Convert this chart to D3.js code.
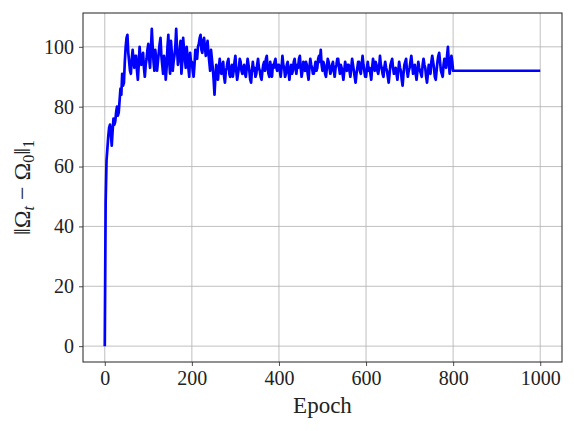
<!DOCTYPE html>
<html>
<head>
<meta charset="utf-8">
<script src="https://cdn.jsdelivr.net/npm/d3@7"></script>
<style>
  body { margin: 0; background: #fff; }
  svg text { font-family: "Liberation Serif", "DejaVu Serif", serif; fill: #222; }
</style>
</head>
<body>
<div id="chart"></div>
<script>
// ||Omega_t - Omega_0||_1 every 2 epochs, epoch 0 .. 800
const epochStep = 2;
const normValues = [
  0, 48, 62, 66, 70, 73, 74, 71, 67, 72, 76, 74, 75, 78, 80, 77, 78, 82, 86, 84,
  91, 87, 88, 95, 100, 103, 104, 98, 95, 92, 91, 96, 99, 95, 93, 97, 97, 92, 89, 94,
  100, 96, 94, 97, 98, 93, 90, 94, 96, 99, 101, 96, 93, 99, 106, 100, 95, 92, 99, 96,
  92, 95, 98, 101, 103, 97, 94, 91, 97, 95, 89, 93, 100, 104, 95, 91, 102, 98, 92, 95,
  97, 100, 106, 99, 94, 96, 99, 102, 91, 95, 103, 99, 96, 93, 100, 97, 93, 90, 98, 95,
  95, 92, 90, 94, 99, 97, 96, 100, 101, 103, 104, 99, 98, 102, 103, 100, 97, 99, 102, 98,
  95, 92, 99, 96, 93, 89, 84, 90, 94, 91, 89, 93, 96, 92, 91, 94, 95, 90, 88, 92,
  93, 95, 96, 91, 90, 93, 94, 90, 92, 95, 97, 92, 89, 91, 93, 96, 95, 92, 91, 93,
  94, 91, 90, 93, 96, 94, 92, 89, 88, 92, 95, 92, 93, 90, 91, 94, 96, 93, 92, 90,
  89, 92, 94, 95, 92, 96, 97, 93, 91, 90, 95, 92, 90, 94, 93, 95, 96, 93, 92, 94,
  94, 92, 90, 93, 97, 94, 93, 90, 91, 94, 95, 92, 89, 92, 94, 91, 92, 95, 96, 93,
  91, 94, 93, 96, 97, 93, 90, 92, 95, 93, 92, 95, 94, 91, 89, 93, 96, 94, 93, 91,
  91, 93, 95, 92, 93, 96, 97, 95, 99, 94, 92, 95, 94, 91, 90, 93, 96, 95, 93, 91,
  92, 94, 95, 92, 90, 93, 94, 96, 96, 93, 91, 94, 93, 91, 89, 92, 95, 93, 92, 94,
  94, 92, 90, 93, 96, 94, 92, 90, 88, 91, 93, 95, 95, 92, 91, 94, 97, 94, 92, 90,
  90, 93, 95, 92, 93, 91, 89, 93, 96, 94, 92, 95, 94, 92, 91, 93, 97, 94, 93, 91,
  90, 93, 95, 93, 92, 90, 88, 91, 94, 95, 96, 93, 91, 92, 93, 91, 89, 92, 95, 93,
  92, 89, 87, 91, 94, 95, 96, 92, 90, 92, 93, 95, 97, 94, 91, 93, 94, 91, 89, 92,
  95, 93, 92, 91, 90, 94, 96, 94, 93, 90, 88, 91, 94, 92, 91, 95, 97, 95, 93, 90,
  89, 92, 95, 97, 98, 95, 92, 91, 90, 94, 96, 94, 93, 97, 100, 95, 91, 94, 97, 95,
  92
];
// flat part after training stops
const tailEpochs = [800, 1000];
const tailValues = [92, 92];

const xTicks = [0, 200, 400, 600, 800, 1000];
const yTicks = [0, 20, 40, 60, 80, 100];

const width = 574, height = 431;
const margin = {top: 13, right: 12, bottom: 69, left: 83};

const svg = d3.select('#chart').append('svg')
    .attr('width', width).attr('height', height);

let points = normValues.map((v, i) => [i * epochStep, v]);
tailEpochs.forEach((e, i) => points.push([e, tailValues[i]]));

// matplotlib-like 5% margins
let x = d3.scaleLinear().domain([-50, 1050]).range([margin.left, width - margin.right]);
let y = d3.scaleLinear().domain([-5.3, 111.3]).range([height - margin.bottom, margin.top]);

// grid
let grid = svg.append('g');
grid.selectAll('.gx').data(xTicks).enter().append('line')
    .attr('x1', d => x(d)).attr('x2', d => x(d))
    .attr('y1', margin.top).attr('y2', height - margin.bottom)
    .attr('stroke', '#b0b0b0').attr('stroke-width', 0.8);
grid.selectAll('.gy').data(yTicks).enter().append('line')
    .attr('y1', d => y(d)).attr('y2', d => y(d))
    .attr('x1', margin.left).attr('x2', width - margin.right)
    .attr('stroke', '#b0b0b0').attr('stroke-width', 0.8);

// the line
let line = d3.line().x(d => x(d[0])).y(d => y(d[1]));
svg.append('path').datum(points)
    .attr('d', line)
    .attr('fill', 'none')
    .attr('stroke', '#0000ff')
    .attr('stroke-width', 2.7)
    .attr('stroke-linejoin', 'round');

// axes
let xAxis = svg.append('g')
    .attr('transform', `translate(0,${height - margin.bottom})`)
    .call(d3.axisBottom(x).tickValues(xTicks).tickFormat(d3.format('d')).tickSize(4).tickPadding(5));
let yAxis = svg.append('g')
    .attr('transform', `translate(${margin.left},0)`)
    .call(d3.axisLeft(y).tickValues(yTicks).tickFormat(d3.format('d')).tickSize(4).tickPadding(5));

[xAxis, yAxis].forEach(a => {
    a.select('.domain').remove();
    a.selectAll('.tick line').attr('stroke', '#222').attr('stroke-width', 0.8);
    a.selectAll('.tick text').attr('font-size', 20)
        .style('font-family', '"Liberation Serif", serif').attr('fill', '#222');
});

// frame
svg.append('rect')
    .attr('x', margin.left).attr('y', margin.top)
    .attr('width', width - margin.right - margin.left)
    .attr('height', height - margin.bottom - margin.top)
    .attr('fill', 'none').attr('stroke', '#222').attr('stroke-width', 1);

// labels
svg.append('text')
    .attr('x', (margin.left + width - margin.right) / 2)
    .attr('y', 413)
    .attr('text-anchor', 'middle')
    .attr('font-size', 23)
    .text('Epoch');

let yl = svg.append('text')
    .attr('transform', `translate(30,${(margin.top + height - margin.bottom) / 2}) rotate(-90)`)
    .attr('text-anchor', 'middle')
    .attr('font-size', 24);
yl.append('tspan').text('\u2016\u03A9');
yl.append('tspan').attr('font-size', 16).attr('font-style', 'italic').attr('dy', 4).text('t');
yl.append('tspan').attr('dy', -4).text(' \u2212 \u03A9');
yl.append('tspan').attr('font-size', 16).attr('dy', 4).text('0');
yl.append('tspan').attr('dy', -4).text('\u2016');
yl.append('tspan').attr('font-size', 16).attr('dy', 4).text('1');
</script>
</body>
</html>
